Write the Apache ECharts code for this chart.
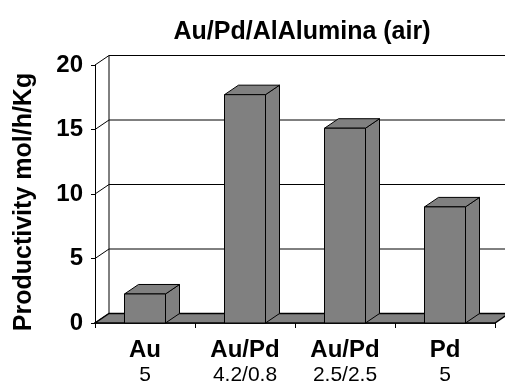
<!DOCTYPE html>
<html>
<head>
<meta charset="utf-8">
<script src="https://cdn.jsdelivr.net/npm/echarts@6/dist/echarts.min.js"></script>
<style>
  html, body { margin: 0; padding: 0; background: #fff; }
  #chart { width: 505px; height: 386px; }
</style>
</head>
<body>
<div id="chart"></div>
<script>
// Catalyst names and metal loadings (wt%) shown under each bar
const catalysts = ['Au', 'Au/Pd', 'Au/Pd', 'Pd'];
const loadings = ['5', '4.2/0.8', '2.5/2.5', '5'];
// Productivity, mol/h/Kg
const productivity = [2.25, 17.7, 15.1, 9.0];
// Value axis ticks
const yTicks = [0, 5, 10, 15, 20];

const FONT = '"Liberation Sans", Arial, sans-serif';
// Depth offset of the pseudo-3D box
const DX = 14, DY = -9.5;
const BAR_GRAY = '#808080';

const chart = echarts.init(document.getElementById('chart'), null, { renderer: 'canvas' });

// Back wall, side-wall grid strokes and floor
function renderFrame(params, api) {
  const cs = params.coordSys;
  const left = cs.x, right = cs.x + cs.width;
  const y0 = api.coord([0, 0])[1];
  const yTop = api.coord([0, yTicks[yTicks.length - 1]])[1];
  const children = [];
  // back wall
  children.push({
    type: 'rect',
    shape: { x: left + DX, y: yTop + DY, width: right - left, height: y0 - yTop },
    style: { fill: '#fff', stroke: '#000', lineWidth: 1 }
  });
  // gridlines on back wall and diagonal strokes on side wall
  yTicks.forEach(function (v) {
    const y = api.coord([0, v])[1];
    if (v > 0 && v < yTicks[yTicks.length - 1]) {
      children.push({
        type: 'line',
        shape: { x1: left + DX, y1: y + DY, x2: right + DX, y2: y + DY },
        style: { stroke: '#000', lineWidth: 1 }
      });
    }
    children.push({
      type: 'line',
      shape: { x1: left, y1: y, x2: left + DX, y2: y + DY },
      style: { stroke: '#000', lineWidth: 1 }
    });
  });
  // floor
  children.push({
    type: 'polygon',
    shape: { points: [[left, y0], [right, y0], [right + DX, y0 + DY], [left + DX, y0 + DY]] },
    style: { fill: BAR_GRAY, stroke: '#000', lineWidth: 1.5 }
  });
  return { type: 'group', children: children };
}

// One box-shaped column per catalyst
function renderBar(params, api) {
  const idx = api.value(0);
  const top = api.coord([idx, api.value(1)]);
  const base = api.coord([idx, 0]);
  const w = api.size([1, 0])[0] * 0.41;
  const x0 = top[0] - w / 2, x1 = top[0] + w / 2;
  const yt = top[1], yb = base[1];
  const st = { fill: BAR_GRAY, stroke: '#000', lineWidth: 1 };
  return {
    type: 'group',
    children: [
      { type: 'polygon', shape: { points: [[x1, yt], [x1 + DX, yt + DY], [x1 + DX, yb + DY], [x1, yb]] }, style: st },
      { type: 'polygon', shape: { points: [[x0, yt], [x1, yt], [x1 + DX, yt + DY], [x0 + DX, yt + DY]] }, style: st },
      { type: 'rect', shape: { x: x0, y: yt, width: w, height: yb - yt }, style: st }
    ]
  };
}

chart.setOption({
  animation: false,
  backgroundColor: '#fff',
  title: {
    text: 'Au/Pd/AlAlumina (air)',
    left: 297,
    textAlign: 'center',
    top: 15,
    textStyle: { fontFamily: FONT, fontWeight: 'bold', fontSize: 25, color: '#000' }
  },
  grid: { left: 95, right: 10, top: 65, bottom: 60, containLabel: false },
  xAxis: {
    type: 'category',
    data: catalysts.map(function (c, i) { return c + '\n' + loadings[i]; }),
    boundaryGap: true,
    axisLine: { show: true, lineStyle: { color: '#000', width: 1.5 } },
    axisTick: { show: true, length: 5, lineStyle: { color: '#000' } },
    axisLabel: {
      margin: 14,
      interval: 0,
      formatter: function (v) {
        const p = v.split('\n');
        return '{n|' + p[0] + '}\n{s|' + p[1] + '}';
      },
      rich: {
        n: { fontFamily: FONT, fontWeight: 'bold', fontSize: 24, color: '#000', lineHeight: 26 },
        s: { fontFamily: FONT, fontSize: 21, color: '#000', lineHeight: 25 }
      }
    },
    splitLine: { show: false }
  },
  yAxis: {
    type: 'value',
    min: 0,
    max: 20,
    interval: 5,
    name: 'Productivity mol/h/Kg',
    nameLocation: 'middle',
    nameRotate: 90,
    nameGap: 58,
    nameTextStyle: {
      fontFamily: FONT, fontWeight: 'bold', fontSize: 25, color: '#000',
      padding: [0, 16, 0, 0]
    },
    axisLine: { show: true, lineStyle: { color: '#000', width: 1 } },
    axisTick: { show: true, length: 4, lineStyle: { color: '#000' } },
    axisLabel: { margin: 12, fontFamily: FONT, fontWeight: 'bold', fontSize: 24, color: '#000' },
    splitLine: { show: false }
  },
  series: [
    {
      type: 'custom',
      renderItem: renderFrame,
      data: [[0, 0]],
      silent: true,
      z: 1
    },
    {
      type: 'custom',
      renderItem: renderBar,
      data: productivity.map(function (v, i) { return [i, v]; }),
      encode: { x: 0, y: 1 },
      z: 2
    }
  ]
});
</script>
</body>
</html>
